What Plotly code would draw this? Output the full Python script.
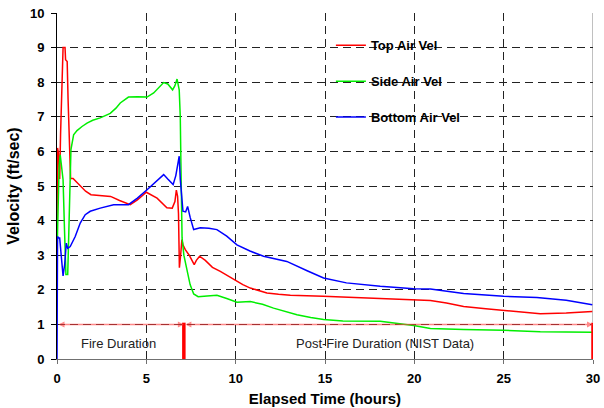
import plotly.graph_objects as go

# ---------------- data ----------------
t_top = [0, 0.03, 0.08, 0.15, 0.2, 0.27, 0.34, 0.38, 0.45, 0.48, 0.57, 0.62, 0.7, 0.76, 0.9,
         1.2, 1.6, 1.9, 2.5, 3.0, 3.5, 4.1, 4.5, 5.0, 5.6, 6.15, 6.45, 6.6, 6.68, 6.75, 6.8,
         6.85, 6.92, 6.99, 7.05, 7.18, 7.4, 7.68, 7.8, 7.98, 8.3, 8.7, 9.14, 9.5, 9.98, 10.4,
         10.82, 11.3, 11.75, 12.4, 13.06, 14.9, 16.5, 18.09, 19.96, 20.9, 21.8, 22.76, 24.0,
         25.0, 26.0, 27.05, 28.5, 29.96]
v_top = [4.0, 6.1, 5.95, 5.2, 6.5, 8.2, 9.0, 9.0, 9.0, 8.65, 8.6, 7.5, 5.8, 5.22, 5.22,
         5.05, 4.85, 4.75, 4.72, 4.7, 4.58, 4.46, 4.6, 4.82, 4.65, 4.37, 4.36, 4.55, 4.88, 4.7, 4.2,
         2.64, 3.0, 3.45, 3.3, 3.16, 3.0, 2.73, 2.85, 2.97, 2.85, 2.65, 2.53, 2.42, 2.29, 2.15,
         2.05, 1.97, 1.91, 1.87, 1.84, 1.81, 1.78, 1.74, 1.71, 1.69, 1.62, 1.52, 1.45,
         1.40, 1.35, 1.31, 1.33, 1.37]

t_side = [0, 0.05, 0.12, 0.18, 0.25, 0.34, 0.42, 0.5, 0.6, 0.66, 0.71, 0.78, 0.93, 1.12, 1.4,
          1.68, 2.0, 2.42, 2.98, 3.3, 3.54, 3.8, 4.0, 4.5, 5.04, 5.41, 5.7, 5.97, 6.2, 6.47,
          6.6, 6.72, 6.84, 6.9, 6.94, 7.0, 7.1, 7.25, 7.45, 7.65, 7.9, 8.4, 8.95, 9.5, 10.07,
          10.82, 11.5, 12.12, 12.8, 13.43, 14.2, 14.92, 16.0, 18.09, 19.96, 20.9, 22.76, 25.0,
          27.05, 29.96]
v_side = [3.0, 4.5, 5.6, 5.9, 5.6, 5.18, 3.74, 2.44, 2.44, 4.0, 4.89, 6.05, 6.48, 6.6, 6.72,
          6.82, 6.9, 6.97, 7.1, 7.25, 7.4, 7.5, 7.57, 7.58, 7.57, 7.69, 7.85, 7.99, 7.95, 7.78,
          7.9, 8.09, 7.78, 7.0, 5.5, 3.5, 3.0, 2.6, 2.15, 1.88, 1.8, 1.82, 1.84, 1.75, 1.64,
          1.66, 1.58, 1.47, 1.37, 1.28, 1.2, 1.14, 1.1, 1.09, 0.97, 0.88, 0.85, 0.83,
          0.79, 0.77]

t_bot = [0, 0.0, 0.03, 0.08, 0.15, 0.24, 0.34, 0.43, 0.52, 0.6, 0.74, 1.02, 1.3, 1.58, 1.86,
         2.42, 3.17, 4.0, 4.5, 5.04, 5.5, 5.97, 6.2, 6.5, 6.65, 6.84, 6.9, 6.94, 7.05, 7.2,
         7.31, 7.45, 7.65, 8.02, 8.5, 8.95, 9.5, 10.07, 10.8, 11.56, 12.86, 14.0, 14.92, 16.2,
         18.09, 19.96, 20.9, 22.76, 25.0, 26.86, 28.5, 29.96]
v_bot = [0, 3.0, 3.54, 3.5, 3.5, 2.97, 2.4, 2.73, 3.35, 3.2, 3.25, 3.54, 3.93, 4.17, 4.27,
         4.36, 4.46, 4.46, 4.65, 4.89, 5.1, 5.33, 5.2, 5.04, 5.3, 5.86, 5.2, 4.99, 4.27, 4.25,
         4.41, 4.1, 3.74, 3.79, 3.78, 3.74, 3.55, 3.3, 3.12, 2.97, 2.82, 2.55, 2.34, 2.2,
         2.1, 2.03, 2.02, 1.89, 1.81, 1.78, 1.7, 1.57]

series_names = ["Top Air Vel", "Side Air Vel", "Bottom Air Vel"]
series_colors = ["#ff0000", "#00ee00", "#0000ff"]

fire_start = 0
fire_end = 7.1
data_end = 30
marker_level = 1
label_level = 0.46
phase_labels = ["Fire Duration", "Post-Fire Duration (NIST Data)"]
phase_label_x = [3.43, 18.37]

x_ticks = [0, 5, 10, 15, 20, 25, 30]
y_ticks = list(range(0, 11))

FONT = "Arial, Liberation Sans, sans-serif"

fig = go.Figure()
for (t, v), name, col in zip([(t_top, v_top), (t_side, v_side), (t_bot, v_bot)],
                             series_names, series_colors):
    fig.add_trace(go.Scatter(x=t, y=v, mode="lines", name=name, legendgroup=name,
                             line=dict(color=col, width=1.5)))

# phase arrows
arrow_col = "rgba(255,60,60,0.6)"
for a, b in [(fire_start, fire_end), (fire_end, data_end)]:
    fig.add_annotation(x=b, y=marker_level, ax=a, ay=marker_level, xref="x", yref="y",
                       axref="x", ayref="y", showarrow=True, arrowside="end+start",
                       arrowhead=2, arrowsize=0.8, arrowwidth=1.5, arrowcolor=arrow_col, text="")

# thick red markers
for xv in [fire_end, data_end]:
    fig.add_shape(type="line", x0=xv, x1=xv, y0=0, y1=marker_level + 0.05, xref="x", yref="y",
                  line=dict(color="#ff0000", width=3.5))

# right border
fig.add_shape(type="line", x0=data_end, x1=data_end, y0=marker_level + 0.05, y1=10, xref="x", yref="y",
              line=dict(color="#808080", width=1), layer="below")

for txt, xv in zip(phase_labels, phase_label_x):
    fig.add_annotation(x=xv, y=label_level, xref="x", yref="y", text=txt, showarrow=False,
                       font=dict(family=FONT, size=13, color="#222222"))

fig.update_layout(
    width=604, height=408,
    margin=dict(l=57, r=11, t=13, b=49),
    paper_bgcolor="white", plot_bgcolor="white",
    font=dict(family=FONT, color="black"),
    showlegend=True,
    legend=dict(x=0.511, y=0.950, xanchor="left", yanchor="top", bgcolor="rgba(0,0,0,0)",
                font=dict(family=FONT, size=13, color="black", weight="bold"),
                tracegroupgap=16, itemwidth=30),
    xaxis=dict(range=[0, 30], tickvals=x_ticks, showgrid=True, gridcolor="#222222",
               griddash="8px,5px", gridwidth=1, zeroline=False, showline=True, automargin=False,
               linecolor="#707070", linewidth=1, ticks="outside", ticklen=4, tickcolor="#707070",
               ticklabelstandoff=3,
               tickfont=dict(family=FONT, size=13, weight="bold"),
               title=dict(text="Elapsed Time (hours)", standoff=8,
                          font=dict(family=FONT, size=15, weight="bold"))),
    yaxis=dict(range=[0, 10], tickvals=y_ticks, showgrid=True, gridcolor="#222222",
               griddash="8px,5px", gridwidth=1, zeroline=False, showline=True, automargin=False,
               linecolor="black", linewidth=1, ticks="outside", ticklen=5, tickcolor="black",
               ticklabelstandoff=4,
               tickfont=dict(family=FONT, size=13, weight="bold"),
               title=dict(text="Velocity (ft/sec)", standoff=6,
                          font=dict(family=FONT, size=16, weight="bold"))),
)

fig.write_html("out.html")
